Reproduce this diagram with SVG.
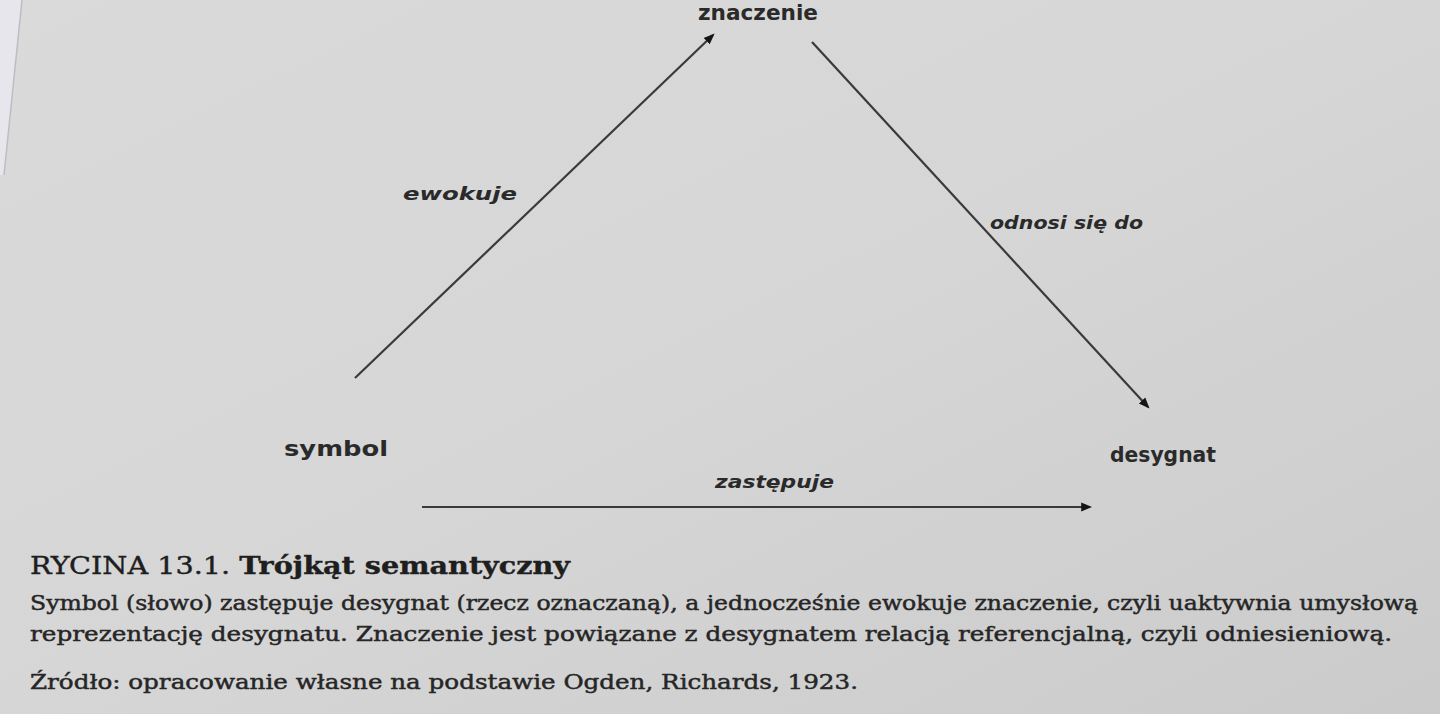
<svg xmlns="http://www.w3.org/2000/svg" width="1440" height="714" viewBox="0 0 1440 714">
<style>
.node{font-family:"DejaVu Sans","Liberation Sans",sans-serif;font-weight:bold;fill:#2a2a2a;font-size:21px}
.lab{font-family:"DejaVu Sans","Liberation Sans",sans-serif;font-weight:bold;font-style:italic;fill:#2a2a2a;font-size:18px}
.cap{font-family:"DejaVu Serif","Liberation Serif",serif;fill:#262626;stroke:#262626;stroke-width:0.45;font-size:19.5px}
.title{font-family:"DejaVu Serif","Liberation Serif",serif;fill:#1e1e1e;stroke:#1e1e1e;stroke-width:0.4;font-size:25px}
.edge{stroke:#3a3a3a;stroke-width:2.2;fill:none}
</style>
<defs>
<linearGradient id="bg" x1="0" y1="0" x2="1" y2="1">
<stop offset="0" stop-color="#dadada"/>
<stop offset="0.5" stop-color="#d6d6d6"/>
<stop offset="1" stop-color="#cbcbcb"/>
</linearGradient>
<marker id="ah" viewBox="0 0 10 10" refX="8" refY="5" markerWidth="5" markerHeight="5" orient="auto" markerUnits="strokeWidth">
<path d="M0,1 L10,5 L0,9 Z" fill="#151515"/>
</marker>
</defs>
<rect x="0" y="0" width="1440" height="714" fill="url(#bg)"/>
<polygon points="0,0 22,0 4,175 0,175" fill="#e6e6ec"/>
<line x1="22" y1="0" x2="4" y2="175" stroke="#bdbdc2" stroke-width="1.5"/>
<g id="connectors">
<line class="edge" x1="355" y1="378" x2="713" y2="35" marker-end="url(#ah)"/>
<line class="edge" x1="812" y1="42" x2="1148" y2="407" marker-end="url(#ah)"/>
<line class="edge" x1="422" y1="507" x2="1090" y2="507" marker-end="url(#ah)"/>
<text class="lab" x="403" y="200" textLength="114" lengthAdjust="spacingAndGlyphs">ewokuje</text>
<text class="lab" x="990" y="229" textLength="153" lengthAdjust="spacingAndGlyphs">odnosi się do</text>
<text class="lab" x="715" y="488" textLength="119" lengthAdjust="spacingAndGlyphs">zastępuje</text>
</g>
<g id="node-znaczenie"><text class="node" x="698" y="20" textLength="120" lengthAdjust="spacingAndGlyphs">znaczenie</text></g>
<g id="node-symbol"><text class="node" x="284" y="456" textLength="104" lengthAdjust="spacingAndGlyphs">symbol</text></g>
<g id="node-desygnat"><text class="node" x="1110" y="462" textLength="106" lengthAdjust="spacingAndGlyphs">desygnat</text></g>
<g id="caption">
<text class="title" x="30" y="574" textLength="540" lengthAdjust="spacingAndGlyphs">RYCINA 13.1. <tspan font-weight="bold">Trójkąt semantyczny</tspan></text>
<text class="cap" x="30" y="610" textLength="1388" lengthAdjust="spacingAndGlyphs">Symbol (słowo) zastępuje desygnat (rzecz oznaczaną), a jednocześnie ewokuje znaczenie, czyli uaktywnia umysłową</text>
<text class="cap" x="30" y="641" textLength="1362" lengthAdjust="spacingAndGlyphs">reprezentację desygnatu. Znaczenie jest powiązane z desygnatem relacją referencjalną, czyli odniesieniową.</text>
<text class="cap" x="30" y="689" textLength="828" lengthAdjust="spacingAndGlyphs">Źródło: opracowanie własne na podstawie Ogden, Richards, 1923.</text>
</g>
</svg>
